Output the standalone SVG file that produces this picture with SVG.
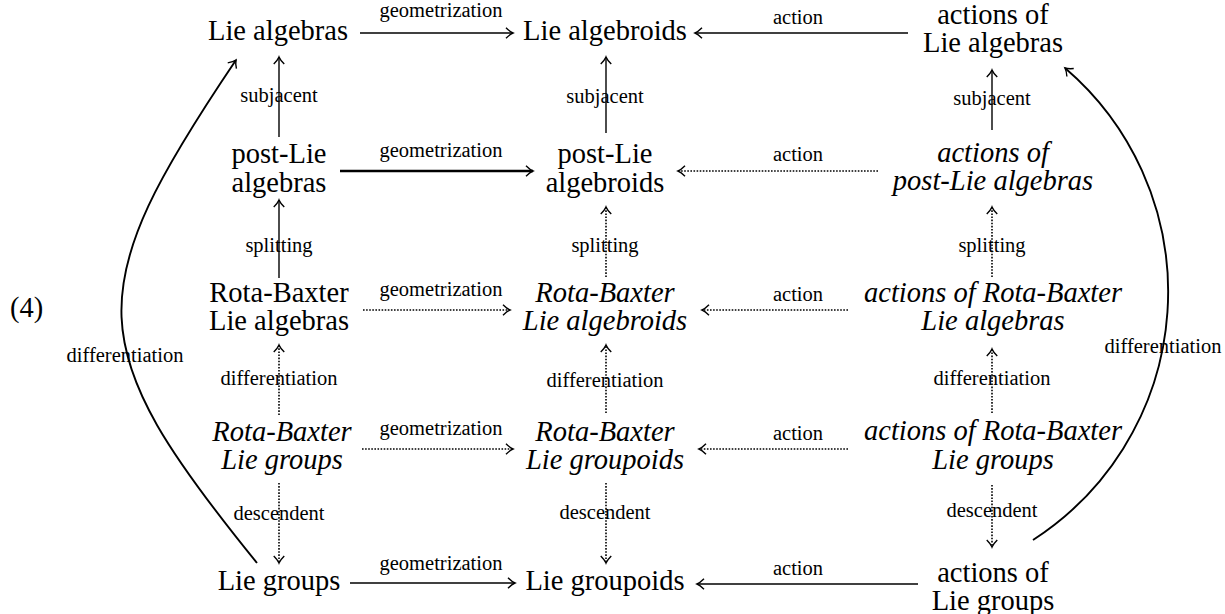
<svg xmlns="http://www.w3.org/2000/svg" width="1225" height="614" viewBox="0 0 1225 614">
<style>
.n{font-family:"Liberation Serif","Times New Roman",serif;font-size:28.5px;fill:#000;text-anchor:middle}
.i{font-style:italic}
.l{font-family:"Liberation Serif","Times New Roman",serif;font-size:20.5px;fill:#000;text-anchor:middle}
.s{stroke:#000;stroke-width:1.4;fill:none}
.b{stroke:#000;stroke-width:2.3;fill:none}
.d{stroke:#000;stroke-width:1.6;fill:none;stroke-dasharray:1.6 1.5}
.c{stroke:#000;stroke-width:1.9;fill:none}
</style>
<defs>
<marker id="ah" markerUnits="userSpaceOnUse" orient="auto" markerWidth="14" markerHeight="14" refX="0" refY="0" viewBox="-8 -6 10 12" overflow="visible">
<path d="M-6,-4.5 Q-2.5,-1 0,0 Q-2.5,1 -6,4.5" stroke="#000" stroke-width="1.2" fill="none"/>
</marker>
</defs>
<text class="n" x="10" y="317" style="text-anchor:start">(4)</text>
<g id="n-lie-algebras"><text class="n" x="278" y="40">Lie algebras</text></g>
<g id="n-lie-algebroids"><text class="n" x="605" y="40">Lie algebroids</text></g>
<g id="n-actions-lie-algebras"><text class="n"><tspan x="993" y="24">actions of</tspan><tspan x="993" y="52">Lie algebras</tspan></text></g>
<g id="n-postlie-algebras"><text class="n"><tspan x="279" y="163">post-Lie</tspan><tspan x="279" y="192">algebras</tspan></text></g>
<g id="n-postlie-algebroids"><text class="n"><tspan x="605" y="163">post-Lie</tspan><tspan x="605" y="192">algebroids</tspan></text></g>
<g id="n-actions-postlie"><text class="n i"><tspan x="993" y="162">actions of</tspan><tspan x="993" y="190">post-Lie algebras</tspan></text></g>
<g id="n-rb-lie-algebras"><text class="n"><tspan x="279" y="302">Rota-Baxter</tspan><tspan x="279" y="330">Lie algebras</tspan></text></g>
<g id="n-rb-lie-algebroids"><text class="n i"><tspan x="605" y="302">Rota-Baxter</tspan><tspan x="605" y="330">Lie algebroids</tspan></text></g>
<g id="n-actions-rb-algebras"><text class="n i"><tspan x="993" y="302">actions of Rota-Baxter</tspan><tspan x="993" y="330">Lie algebras</tspan></text></g>
<g id="n-rb-lie-groups"><text class="n i"><tspan x="282" y="441">Rota-Baxter</tspan><tspan x="282" y="469">Lie groups</tspan></text></g>
<g id="n-rb-lie-groupoids"><text class="n i"><tspan x="605" y="441">Rota-Baxter</tspan><tspan x="605" y="469">Lie groupoids</tspan></text></g>
<g id="n-actions-rb-groups"><text class="n i"><tspan x="993" y="440">actions of Rota-Baxter</tspan><tspan x="993" y="469">Lie groups</tspan></text></g>
<g id="n-lie-groups"><text class="n" x="279" y="590">Lie groups</text></g>
<g id="n-lie-groupoids"><text class="n" x="605" y="590">Lie groupoids</text></g>
<g id="n-actions-lie-groups"><text class="n"><tspan x="993" y="582">actions of</tspan><tspan x="993" y="610">Lie groups</tspan></text></g>
<g id="connectors">
<path class="s" d="M360,33H513" marker-end="url(#ah)"/>
<path class="s" d="M908,33H695" marker-end="url(#ah)"/>
<path class="b" d="M340,171H533" marker-end="url(#ah)"/>
<path class="d" d="M878,171H678" marker-end="url(#ah)"/>
<path class="d" d="M363,310H510" marker-end="url(#ah)"/>
<path class="d" d="M848,310H702" marker-end="url(#ah)"/>
<path class="d" d="M362,449H513" marker-end="url(#ah)"/>
<path class="d" d="M848,449H699" marker-end="url(#ah)"/>
<path class="s" d="M350,583H515" marker-end="url(#ah)"/>
<path class="s" d="M918,584H697" marker-end="url(#ah)"/>
<path class="s" d="M279,137V57" marker-end="url(#ah)"/>
<path class="s" d="M279,278V200" marker-end="url(#ah)"/>
<path class="d" d="M279,415V345" marker-end="url(#ah)"/>
<path class="d" d="M279,483V563" marker-end="url(#ah)"/>
<path class="s" d="M606,133V57" marker-end="url(#ah)"/>
<path class="d" d="M606,277V207" marker-end="url(#ah)"/>
<path class="d" d="M606,413V345" marker-end="url(#ah)"/>
<path class="d" d="M606,483V563" marker-end="url(#ah)"/>
<path class="s" d="M992,130V70" marker-end="url(#ah)"/>
<path class="d" d="M992,277V207" marker-end="url(#ah)"/>
<path class="d" d="M992,413V349" marker-end="url(#ah)"/>
<path class="d" d="M992,485V547" marker-end="url(#ah)"/>
<path class="c" d="M257,563C80.6,345.7 79.2,292.4 236,60" marker-end="url(#ah)"/>
<path class="c" d="M1033,540A295,295 0 0 0 1065,68" marker-end="url(#ah)"/>
</g>
<g id="labels">
<text class="l" x="441" y="17">geometrization</text>
<text class="l" x="798" y="24">action</text>
<text class="l" x="441" y="157">geometrization</text>
<text class="l" x="798" y="161">action</text>
<text class="l" x="441" y="296">geometrization</text>
<text class="l" x="798" y="301">action</text>
<text class="l" x="441" y="435">geometrization</text>
<text class="l" x="798" y="440">action</text>
<text class="l" x="441" y="570">geometrization</text>
<text class="l" x="798" y="575">action</text>
<text class="l" x="279" y="102">subjacent</text>
<text class="l" x="605" y="103">subjacent</text>
<text class="l" x="992" y="105">subjacent</text>
<text class="l" x="279" y="252">splitting</text>
<text class="l" x="605" y="252">splitting</text>
<text class="l" x="992" y="252">splitting</text>
<text class="l" x="279" y="385">differentiation</text>
<text class="l" x="605" y="387">differentiation</text>
<text class="l" x="992" y="385">differentiation</text>
<text class="l" x="279" y="520">descendent</text>
<text class="l" x="605" y="519">descendent</text>
<text class="l" x="992" y="517">descendent</text>
<text class="l" x="125" y="362">differentiation</text>
<text class="l" x="1163" y="353">differentiation</text>
</g>
</svg>
